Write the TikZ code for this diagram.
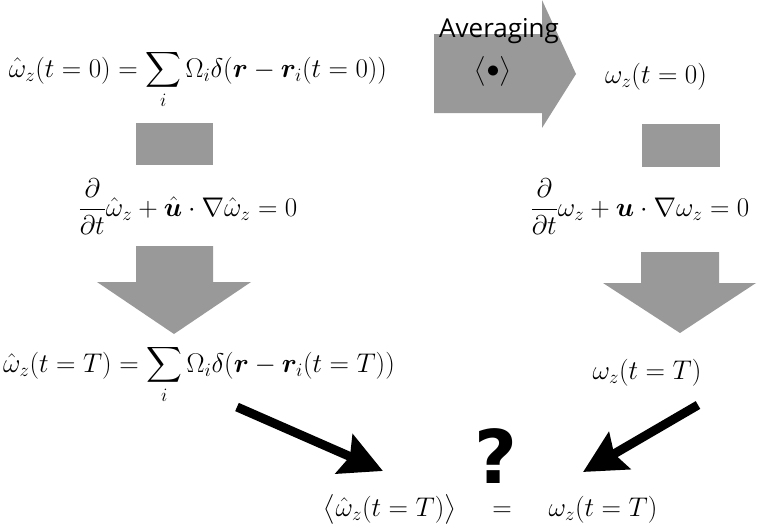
\RequirePackage{fix-cm}
\documentclass[tikz,border=0pt]{standalone}
\usepackage{amsmath,bm}
\usepackage{fontspec}
\newfontfamily\avgfont{Open Sans}
\newfontfamily\qfont{DejaVu Sans}
\usetikzlibrary{arrows.meta}
\begin{document}
\begin{tikzpicture}[x=1pt,y=-1pt,
  eq/.style={inner sep=0pt, anchor=base, font=\fontsize{27}{32}\selectfont},
  blockfill/.style={fill=black!40, draw=none},
  blackarrow/.style={line width=9pt, -{Stealth[length=42pt,width=42pt,inset=6pt]}}]
\useasboundingbox (0,0) rectangle (758,530);

% gray averaging arrow
\fill[blockfill] (434,34) -- (542,34) -- (542,0) -- (576,74) -- (542,128) -- (542,113) -- (434,113) -- cycle;
\node[inner sep=0pt, anchor=base, font=\avgfont\fontsize{26}{30}\selectfont] (avgtxt) at (499,37) {Averaging};
\node[inner sep=0pt, font=\fontsize{26}{30}\selectfont] (avgsym) at (493,71) {$\bigl\langle\bullet\bigr\rangle$};

% small gray rectangles
\fill[blockfill] (136,123) rectangle (213,165);
\fill[blockfill] (642,124) rectangle (720,167);

% gray down arrows
\fill[blockfill] (136,246) -- (213,246) -- (213,282) -- (251,282) -- (174,334) -- (97,282) -- (136,282) -- cycle;
\fill[blockfill] (641,252) -- (719,252) -- (719,283) -- (756,283) -- (680,333) -- (603,283) -- (641,283) -- cycle;

% equations
\node[eq] (eqA) at (198,77) {$\hat\omega_z(t=0)=\displaystyle\sum_i\Omega_i\delta(\bm r-\bm r_i(t=0))$};
\node[eq] (eqB) at (656,83) {$\omega_z(t=0)$};
\node[eq] (eqC) at (188,216) {$\dfrac{\partial}{\partial t}\hat\omega_z+\hat{\bm u}\cdot\nabla\hat\omega_z=0$};
\node[eq] (eqD) at (640,216) {$\dfrac{\partial}{\partial t}\omega_z+\bm u\cdot\nabla\omega_z=0$};
\node[eq] (eqE) at (199,372) {$\hat\omega_z(t=T)=\displaystyle\sum_i\Omega_i\delta(\bm r-\bm r_i(t=T))$};
\node[eq] (eqF) at (647,379) {$\omega_z(t=T)$};
\node[eq] (eqG) at (390,516) {$\bigl\langle\hat\omega_z(t=T)\bigr\rangle$};
\node[eq] (eqeq) at (502,516) {$=$};
\node[eq] (eqH) at (603,516) {$\omega_z(t=T)$};

% question mark
\node[inner sep=0pt, font=\qfont\bfseries\fontsize{74}{80}\selectfont] (qm) at (496,456) {?};

% black arrows
\coordinate (la) at (237,407);
\coordinate (lb) at (383,471);
\coordinate (ra) at (698,405);
\coordinate (rb) at (583,472);
\draw[blackarrow] (la) -- (lb);
\draw[blackarrow] (ra) -- (rb);
\end{tikzpicture}
\end{document}
